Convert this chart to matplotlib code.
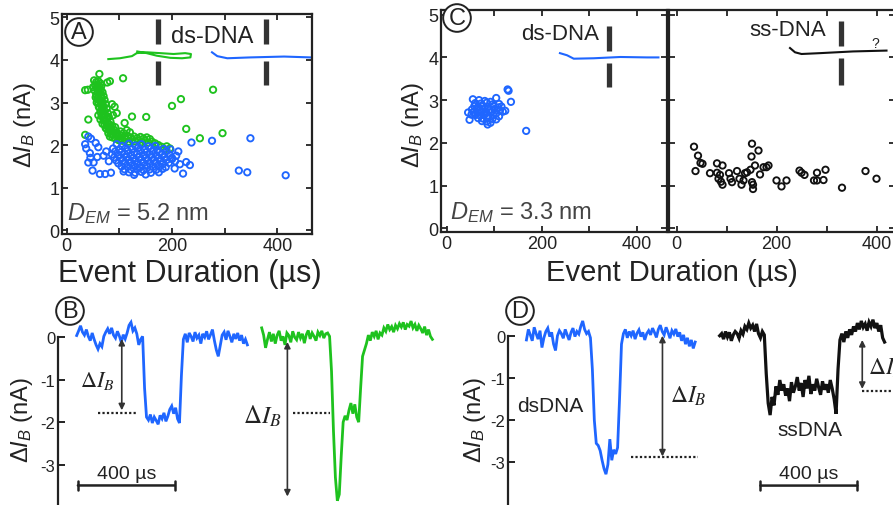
import numpy as np
import matplotlib
matplotlib.use("Agg")
import matplotlib.pyplot as plt

plt.rcParams['font.family'] = ['Liberation Sans', 'DejaVu Sans']
plt.rcParams['mathtext.fontset'] = 'custom'
plt.rcParams['mathtext.rm'] = 'Liberation Sans'
plt.rcParams['mathtext.it'] = 'Liberation Sans:italic'
plt.rcParams['mathtext.bf'] = 'Liberation Sans:bold'

BLUE = '#1f66ff'
GREEN = '#1ec21e'
DARK = '#222222'
GRAY = '#444444'

# ---- panel A : event scatter, D_EM = 5.2 nm (us, nA)
a_green_x = [52, 56, 60, 64, 58, 54, 62, 66, 57, 61, 65, 53, 59, 63, 68, 56, 60, 66, 70, 58,
             63, 67, 72, 60, 65, 69, 74, 62, 67, 71, 76, 64, 69, 73, 78, 66, 71, 75, 80, 70,
             74, 78, 83, 72, 77, 81, 86, 76, 80, 85, 90, 79, 84, 88, 94, 82, 87, 92, 98, 104,
             110, 116, 122, 128, 134, 140, 146, 152, 158, 100, 106, 112, 118, 124, 130, 136, 142, 148, 155, 162,
             168, 174, 180, 190, 196, 186, 95, 102, 108, 114, 120, 68, 64, 60, 74,
             35, 40, 62, 82, 77, 107, 86, 41, 124, 151, 110, 35, 217, 200, 227, 253, 296, 278, 91, 95, 88,
             50, 55, 61, 70, 57, 72, 79, 84, 90, 96, 103, 92, 98]
a_green_y = [3.52, 3.48, 3.50, 3.45, 3.42, 3.40, 3.38, 3.40, 3.35, 3.32, 3.30, 3.28, 3.25, 3.22, 3.24, 3.18, 3.15, 3.12, 3.15, 3.08,
             3.05, 3.02, 3.06, 2.98, 2.95, 2.92, 2.96, 2.88, 2.85, 2.82, 2.86, 2.78, 2.75, 2.72, 2.75, 2.68, 2.65, 2.62, 2.66, 2.58,
             2.55, 2.52, 2.55, 2.48, 2.45, 2.42, 2.46, 2.38, 2.35, 2.33, 2.36, 2.28, 2.26, 2.24, 2.27, 2.20, 2.18, 2.16, 2.20, 2.22,
             2.18, 2.21, 2.17, 2.20, 2.16, 2.19, 2.15, 2.18, 2.14, 2.12, 2.10, 2.13, 2.08, 2.12, 2.09, 2.11, 2.07, 2.10, 2.06, 2.08,
             2.04, 2.00, 1.96, 1.97, 1.92, 1.90, 2.30, 2.32, 2.28, 2.35, 2.30, 2.50, 2.60, 2.70, 2.40,
             3.29, 3.30, 3.67, 3.50, 3.47, 3.57, 2.96, 2.60, 2.67, 2.66, 2.52, 2.24, 3.08, 2.92, 2.38, 2.16, 2.28, 3.30, 2.90, 2.75, 2.70,
             3.36, 3.12, 2.90, 2.70, 3.00, 2.60, 2.50, 2.40, 2.30, 2.24, 2.16, 2.42, 2.12]

a_blue_x = [95, 105, 118, 130, 142, 155, 168,
            88, 100, 112, 124, 136, 148, 160, 172, 184,
            92, 104, 116, 128, 140, 152, 164, 176, 190,
            86, 98, 110, 122, 134, 146, 158, 170, 182, 196,
            90, 102, 114, 126, 138, 150, 162, 174, 186, 200,
            94, 106, 118, 130, 142, 154, 166, 178, 190,
            98, 110, 122, 134, 146, 158, 170, 182, 194,
            104, 116, 128, 140, 152, 164, 176, 188,
            110, 122, 134, 146, 158, 170, 182,
            118, 130, 142, 160, 175, 128, 150, 108,
            41, 35, 37, 44, 51, 41, 49, 63, 73, 84, 70, 46, 55, 60, 75, 80, 45, 58,
            197, 208, 200, 206, 227, 234, 221, 237, 276, 349, 327, 343, 416, 212, 215, 205]
a_blue_y = [2.02, 1.98, 2.03, 1.99, 2.02, 1.97, 1.98,
            1.92, 1.90, 1.93, 1.91, 1.94, 1.90, 1.92, 1.89, 1.91,
            1.85, 1.84, 1.86, 1.83, 1.86, 1.84, 1.85, 1.83, 1.86,
            1.78, 1.77, 1.79, 1.76, 1.79, 1.77, 1.78, 1.76, 1.79, 1.76,
            1.71, 1.70, 1.72, 1.69, 1.72, 1.70, 1.71, 1.69, 1.72, 1.70,
            1.64, 1.63, 1.65, 1.62, 1.65, 1.63, 1.64, 1.62, 1.65,
            1.57, 1.56, 1.58, 1.55, 1.58, 1.56, 1.57, 1.55, 1.58,
            1.50, 1.49, 1.51, 1.48, 1.51, 1.49, 1.50, 1.48,
            1.43, 1.42, 1.44, 1.41, 1.43, 1.42, 1.44,
            1.36, 1.35, 1.37, 1.35, 1.36, 1.30, 1.31, 1.38,
            2.20, 2.02, 1.92, 1.81, 1.59, 1.59, 1.40, 1.32, 1.32, 1.35, 1.75, 2.15, 2.05, 1.95, 1.85, 1.62, 1.70, 1.72,
            1.90, 1.75, 1.67, 1.62, 1.60, 1.53, 1.33, 2.06, 2.10, 2.16, 1.40, 1.36, 1.29, 1.85, 1.55, 1.45]

# ---- panel C : D_EM = 3.3 nm, ds-DNA (left) and ss-DNA (right)
c_ds_x = [55, 68, 80, 92, 104, 60, 72, 84, 96, 110, 58, 66, 76, 86, 98, 108,
          62, 70, 80, 90, 100, 112, 56, 66, 74, 84, 94, 104, 118, 60, 70, 78, 88, 98, 110,
          66, 76, 86, 96, 104, 74, 84, 92, 86, 45, 48, 53, 123, 128, 130, 135, 167, 115, 52]
c_ds_y = [3.02, 3.00, 2.98, 2.96, 3.05, 2.93, 2.92, 2.94, 2.90, 2.91, 2.86, 2.85, 2.87, 2.84, 2.86, 2.83,
          2.79, 2.78, 2.80, 2.77, 2.79, 2.76, 2.72, 2.71, 2.73, 2.70, 2.72, 2.69, 2.73, 2.65, 2.64, 2.66, 2.63, 2.65, 2.62,
          2.58, 2.57, 2.59, 2.56, 2.55, 2.51, 2.50, 2.47, 2.43, 2.71, 2.54, 2.78, 2.75, 3.25, 3.22, 2.96, 2.28, 2.85, 2.66]

c_ss_x = [35, 43, 38, 48, 52, 67, 81, 92, 81, 84, 87, 89, 92, 105, 108, 111, 121, 126, 130, 134,
          137, 141, 148, 151, 150, 151, 153, 153, 157, 164, 167, 174, 180, 184, 200, 210, 220, 246, 250, 256,
          275, 281, 281, 294, 298, 331, 378, 400]
c_ss_y = [1.91, 1.70, 1.34, 1.53, 1.51, 1.29, 1.52, 1.47, 1.30, 1.16, 1.25, 1.09, 1.02, 1.29, 1.16, 1.08, 1.34, 1.16, 1.02, 1.12,
          1.29, 1.31, 1.37, 1.98, 1.68, 1.08, 1.02, 0.92, 1.47, 1.82, 1.26, 1.43, 1.43, 1.47, 1.12, 0.98, 1.12, 1.35, 1.30, 1.25,
          1.12, 1.12, 1.30, 1.13, 1.37, 0.95, 1.34, 1.16]

# DNA cartoons drawn on top of the scatter panels
a_green_dna_x = [79, 101, 124, 133, 152, 178, 203, 225, 236, 235, 219, 197, 171, 152, 134]
a_green_dna_y = [4.02, 4.04, 4.09, 4.16, 4.18, 4.16, 4.14, 4.16, 4.14, 4.06, 4.04, 4.05, 4.10, 4.16, 4.20]
a_blue_dna_x = [276, 286, 305, 349, 413, 463]
a_blue_dna_y = [4.18, 4.09, 4.04, 4.06, 4.08, 4.06]
c_blue_dna_x = [238, 253, 267, 309, 365, 421, 445]
c_blue_dna_y = [4.10, 4.05, 3.97, 3.98, 4.01, 4.00, 4.00]
c_black_dna_x = [227, 237, 250, 287, 353, 420]
c_black_dna_y = [4.22, 4.12, 4.08, 4.10, 4.14, 4.16]

# ---- panels B and D : current traces (nA), sampled every 8 us
dt_us = 8
b_blue_t0 = 77
b_blue = [0.04, 0.15, 0.27, 0.12, 0.05, 0.18, 0.02, -0.08, 0.10, -0.05, -0.18, -0.28, -0.15, -0.22, 0.02,
          0.12, 0.20, 0.08, 0.22, 0.05, -0.02, 0.14, 0.03, -0.12, 0.06, -0.04, 0.10, 0.28, 0.35, 0.15,
          0.22, 0.08, -0.18, -0.05, 0.02,
          -1.2, -1.88,
          -1.95, -1.82, -2.02, -1.88, -1.96, -2.05, -1.84, -1.92, -1.78, -1.98, -1.86, -1.70, -1.62, -1.80,
          -1.66, -1.92, -2.02,
          -0.9, -0.05,
          0.08, -0.12, 0.10, 0.02, -0.10, 0.12, -0.02, 0.05, -0.15, 0.08, 0.00, 0.14, -0.05, 0.06, 0.18,
          -0.08, -0.30, -0.45, -0.20, 0.05, 0.12, -0.06, 0.15, 0.02, -0.12, 0.08, -0.04, 0.10, -0.08, 0.05,
          -0.15, -0.05, -0.18]
b_green_t0 = 840
b_green = [0.22, 0.05, -0.25, -0.05, 0.12, -0.10, 0.08, -0.15, 0.05, 0.15, -0.08, 0.02, -0.18, 0.10, 0.04,
           -0.12, 0.14, 0.00, -0.06, 0.12, -0.02, 0.08, -0.14, 0.06, 0.16, -0.04, 0.10, 0.02, -0.08, 0.12,
           0.04, 0.15, -0.02, 0.08, 0.10, 0.02,
           -0.8, -2.2, -3.3, -3.85, -3.7, -2.8, -2.0, -1.85, -1.95, -1.72, -1.55, -1.80, -1.58, -1.88, -2.0,
           -1.2, -0.45, -0.30,
           -0.15, 0.05, -0.08, 0.12, 0.02, 0.15, -0.05, 0.10, 0.05, 0.22, 0.14, 0.30, 0.18, 0.25, 0.12,
           0.28, 0.20, 0.32, 0.24, 0.35, 0.18, 0.30, 0.26, 0.38, 0.22, 0.30, 0.15, 0.28, 0.20, 0.10,
           0.25, 0.05, 0.18, 0.02, -0.05]
d_blue_t0 = 76
d_blue = [-0.10, 0.15, 0.02, -0.12, 0.20, 0.05, -0.08, 0.12, -0.28, -0.05, 0.10, 0.18, -0.02, 0.08, -0.20,
          -0.35, 0.00, 0.12, 0.05, -0.06, 0.15, 0.02, -0.10, 0.08, 0.18, -0.02, 0.10, 0.04, 0.22, 0.35,
          0.15, 0.05, 0.10, -0.05,
          -0.8, -2.0, -2.55,
          -2.6, -2.72, -2.95, -3.15, -3.28, -3.05, -2.45, -2.95, -2.7, -2.8, -2.65,
          -1.5, -0.2,
          0.05, 0.15, -0.05, 0.10, 0.00, 0.12, -0.08, 0.06, 0.14, -0.02, 0.08, -0.10, 0.05, 0.12, 0.02,
          0.18, 0.08, -0.04, 0.15, 0.25, 0.10, 0.02, 0.20, 0.08, -0.06, 0.12, 0.04, 0.16, -0.02, 0.08,
          -0.12, 0.02, -0.20, -0.05, -0.25, -0.10, -0.30, -0.15]
d_black_t0 = 873
d_black = [0.00, 0.05, -0.08, 0.10, -0.03, 0.08, -0.12, 0.02, 0.10, 0.05, -0.06, 0.12, 0.04, 0.22, 0.15,
           0.30, 0.18, 0.25, 0.10, 0.28, 0.05, -0.05, 0.10, 0.02,
           -0.9, -1.6,
           -1.88, -1.45, -1.65, -1.20, -1.40, -1.05, -1.30, -1.15, -1.42, -1.25, -1.55, -1.10, -1.35, -1.20, -0.98,
           -1.30, -1.12, -1.45, -1.05, -1.25, -0.95, -1.38, -1.15, -1.30, -1.02, -1.22, -1.40, -1.08, -1.28, -1.15,
           -1.35, -1.05, -1.25, -1.50, -1.85,
           -0.8, -0.1,
           0.05, -0.15, 0.10, -0.05, 0.15, 0.02, 0.22, 0.10, 0.30, 0.15, 0.35, 0.20, 0.28, 0.12, 0.32,
           0.22, 0.38, 0.18, 0.30, 0.10, 0.25, -0.05, -0.15]

W, H = 893, 506
fig = plt.figure(figsize=(W / 100, H / 100), dpi=100)


def axes_px(l, t, r, b):
    return fig.add_axes([l / W, 1 - b / H, (r - l) / W, (b - t) / H])


def fig_text(px, py, s, **kw):
    return fig.text(px / W, 1 - py / H, s, **kw)


def circled(px, py, letter):
    fig_text(px, py, letter, fontsize=17, ha='center', va='center', color=DARK,
             bbox=dict(boxstyle='circle,pad=0.12', fc='white', ec=DARK, lw=1.4))


def scatter_frame(ax, xlim, ylim, show_y=True):
    ax.set_xlim(*xlim)
    ax.set_ylim(*ylim)
    ax.set_xticks([0, 100, 200, 300, 400])
    ax.set_xticklabels(['0', '', '200', '', '400'])
    ax.set_yticks(range(6))
    if not show_y:
        ax.set_yticklabels([])
    ax.tick_params(direction='in', length=4, width=1.3, top=True, right=True,
                   labelsize=13, pad=2, colors=DARK)
    for sp in ax.spines.values():
        sp.set_linewidth(1.6)
        sp.set_color(DARK)


def rings(ax, x, y, color):
    ax.scatter(x, y, s=21, facecolors='none', edgecolors=color, linewidths=1.35, zorder=3)


def bar_pair(ax, x, y_top, y_bot):
    ax.plot([x, x], y_top, color='#333333', lw=3.8, solid_capstyle='butt', zorder=4)
    ax.plot([x, x], y_bot, color='#333333', lw=3.8, solid_capstyle='butt', zorder=4)


# panel A
axA = axes_px(62, 15, 312, 235)
scatter_frame(axA, (-9, 466), (-0.09, 5.08))
rings(axA, a_green_x, a_green_y, GREEN)
rings(axA, a_blue_x, a_blue_y, BLUE)
axA.plot(a_green_dna_x, a_green_dna_y, color=GREEN, lw=1.5)
axA.plot(a_blue_dna_x, a_blue_dna_y, color=BLUE, lw=1.5)
bar_pair(axA, 173, (4.37, 4.96), (3.40, 3.98))
bar_pair(axA, 379, (4.37, 4.96), (3.40, 3.98))
axA.text(276, 4.56, 'ds-DNA', fontsize=17, ha='center', va='center', color=DARK)
axA.text(0, 0.42, r'$D_{EM}$ = 5.2 nm', fontsize=17, va='center', color=GRAY)
fig_text(25, 125, r'$\Delta I_B$ (nA)', fontsize=17, rotation=90, ha='center', va='center', color=DARK)
fig_text(190, 274, 'Event Duration (µs)', fontsize=22, ha='center', va='center', color=DARK)
circled(79, 33, 'A')

# panel C, left (ds-DNA)
axC1 = axes_px(441, 11, 667, 233)
scatter_frame(axC1, (-12, 463), (-0.087, 5.11))
rings(axC1, c_ds_x, c_ds_y, BLUE)
axC1.plot(c_blue_dna_x, c_blue_dna_y, color=BLUE, lw=1.5)
bar_pair(axC1, 341, (4.14, 4.73), (3.30, 3.87))
axC1.text(238, 4.57, 'ds-DNA', fontsize=16, ha='center', va='center', color=DARK)
axC1.text(7, 0.4, r'$D_{EM}$ = 3.3 nm', fontsize=17, va='center', color=GRAY)

# panel C, right (ss-DNA)
axC2 = axes_px(669, 11, 895, 233)
scatter_frame(axC2, (-15, 437), (-0.087, 5.11), show_y=False)
rings(axC2, c_ss_x, c_ss_y, '#111111')
axC2.plot(c_black_dna_x, c_black_dna_y, color='#111111', lw=1.5)
bar_pair(axC2, 328, (4.26, 4.85), (3.36, 3.98))
axC2.text(223, 4.65, 'ss-DNA', fontsize=16, ha='center', va='center', color=DARK)
axC2.text(397, 4.34, '?', fontsize=10, ha='center', va='center', color=DARK)
fig_text(413, 125, r'$\Delta I_B$ (nA)', fontsize=17, rotation=90, ha='center', va='center', color=DARK)
fig_text(672, 273, 'Event Duration (µs)', fontsize=21, ha='center', va='center', color=DARK)
circled(457, 19, 'C')


def trace_frame(ax, ylim):
    ax.set_xlim(0, 1596)
    ax.set_ylim(*ylim)
    for name in ['top', 'right', 'bottom']:
        ax.spines[name].set_visible(False)
    ax.spines['left'].set_bounds(ylim[0], 0)
    ax.spines['left'].set_linewidth(1.6)
    ax.spines['left'].set_color(DARK)
    ax.set_xticks([])
    ax.set_yticks([0, -1, -2, -3])
    ax.set_yticklabels(['0', '-1', '-2', '-3'])
    ax.tick_params(axis='y', direction='in', length=5, width=1.4, labelsize=12, pad=2, colors=DARK)
    ax.patch.set_alpha(0)


def trace(ax, t0, values, color, lw=2.0):
    t = t0 + dt_us * np.arange(len(values))
    ax.plot(t, values, color=color, lw=lw, solid_joinstyle='miter')


def double_arrow(ax, t, y0, y1):
    ax.annotate('', xy=(t, y1), xytext=(t, y0),
                arrowprops=dict(arrowstyle='<|-|>', color='#333333', lw=1.2,
                                mutation_scale=9, shrinkA=0, shrinkB=0))


def dotted(ax, t0, t1, y):
    ax.plot([t0, t1], [y, y], color=DARK, lw=1.6, ls=(0, (1, 1)))


def scale_bar(ax, t0, y, label_y):
    ax.annotate('', xy=(t0 + 400, y), xytext=(t0, y),
                arrowprops=dict(arrowstyle='|-|,widthA=0.35,widthB=0.35', color=DARK, lw=1.8,
                                shrinkA=0, shrinkB=0))
    ax.text(t0 + 200, label_y, '400 µs', fontsize=14, ha='center', va='center', color=DARK)


delta_ib = r'$\Delta I_B$'

# panel B
axB = axes_px(58, 300, 445, 506)
trace_frame(axB, (-3.95, 0.90))
trace(axB, b_blue_t0, b_blue, BLUE)
trace(axB, b_green_t0, b_green, GREEN)
dotted(axB, 165, 330, -1.78)
dotted(axB, 969, 1120, -1.78)
double_arrow(axB, 263, -0.04, -1.72)
double_arrow(axB, 946, -0.11, -3.75)
axB.text(160, -1.0, delta_ib, fontsize=16, ha='center', va='center', color=DARK, math_fontfamily='stix')
axB.text(841, -1.84, delta_ib, fontsize=18, ha='center', va='center', color=DARK, math_fontfamily='stix')
scale_bar(axB, 82, -3.49, -3.20)
fig_text(22, 420, r'$\Delta I_B$ (nA)', fontsize=17, rotation=90, ha='center', va='center', color=DARK)
circled(70, 312, 'B')

# panel D
axD = axes_px(508, 300, 895, 506)
trace_frame(axD, (-4.01, 0.87))
trace(axD, d_blue_t0, d_blue, BLUE)
trace(axD, d_black_t0, d_black, '#111111', lw=2.3)
dotted(axD, 509, 783, -2.88)
dotted(axD, 1461, 1600, -1.30)
double_arrow(axD, 637, 0.0, -2.86)
double_arrow(axD, 1461, -0.1, -1.26)
axD.text(667, -1.42, delta_ib, fontsize=17, ha='left', va='center', color=DARK, math_fontfamily='stix')
axD.text(1483, -0.74, delta_ib, fontsize=17, ha='left', va='center', color=DARK, math_fontfamily='stix')
axD.text(176, -1.66, 'dsDNA', fontsize=15, ha='center', va='center', color=DARK)
axD.text(1244, -2.21, 'ssDNA', fontsize=15, ha='center', va='center', color=DARK)
scale_bar(axD, 1041, -3.55, -3.27)
fig_text(475, 420, r'$\Delta I_B$ (nA)', fontsize=17, rotation=90, ha='center', va='center', color=DARK)
circled(520, 312, 'D')

fig.savefig('out.png', dpi=100)
